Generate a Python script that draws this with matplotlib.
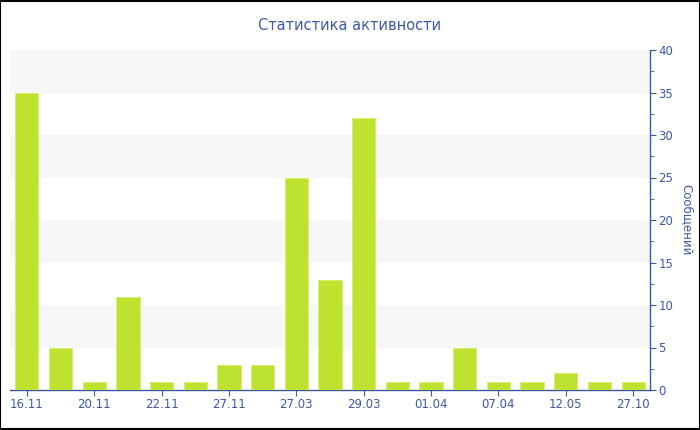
import numpy as np
import matplotlib.pyplot as plt
from matplotlib.ticker import MultipleLocator

dates = ["16.11", "18.11", "20.11", "21.11", "22.11", "25.11", "27.11", "28.11",
         "27.03", "28.03", "29.03", "30.03", "01.04", "02.04", "07.04", "10.04",
         "12.05", "20.05", "27.10"]
messages = [35, 5, 1, 11, 1, 1, 3, 3, 25, 13, 32, 1, 1, 5, 1, 1, 2, 1, 1]

BLUE = "#3e57a0"
GREEN = "#bde22f"

fig = plt.figure(figsize=(7, 4.3), dpi=100)
ax = fig.add_axes([10 / 700, 40 / 430, 640 / 700, 340 / 430])

x = np.arange(len(messages))
ax.bar(x, messages, width=0.69, color=GREEN, edgecolor="#d4ee70", linewidth=0.6, zorder=3)

# alternating bands
for lo in range(5, 40, 10):
    ax.axhspan(lo, lo + 5, color="#f7f7f7", zorder=0, linewidth=0)

ax.set_xlim(-0.5, len(messages) - 0.5)
ax.set_ylim(0, 40)
ax.set_xticks(x[::2])
ax.set_xticklabels(dates[::2])

ax.yaxis.tick_right()
ax.yaxis.set_label_position("right")
ax.yaxis.set_major_locator(MultipleLocator(5))
ax.yaxis.set_minor_locator(MultipleLocator(2.5))
ax.set_ylabel("Сообщений", rotation=-90, labelpad=14, color=BLUE, fontsize=8.5)

for s in ["top", "left"]:
    ax.spines[s].set_visible(False)
for s in ["bottom", "right"]:
    ax.spines[s].set_color(BLUE)
    ax.spines[s].set_linewidth(1)

ax.tick_params(axis="x", colors=BLUE, labelsize=8.5, length=4, pad=2)
ax.tick_params(axis="y", which="major", colors=BLUE, labelsize=8.5, length=4, pad=2)
ax.tick_params(axis="y", which="minor", colors=BLUE, length=3)

fig.text(0.5, 1 - 25 / 430, "Статистика активности", ha="center", va="center",
         color=BLUE, fontsize=10.5)

fig.patches.append(plt.Rectangle((0.0007, 0.0012), 0.9986, 0.9976, transform=fig.transFigure,
                                 fill=False, edgecolor="black", linewidth=1.5))

fig.savefig("out.png", dpi=100)
